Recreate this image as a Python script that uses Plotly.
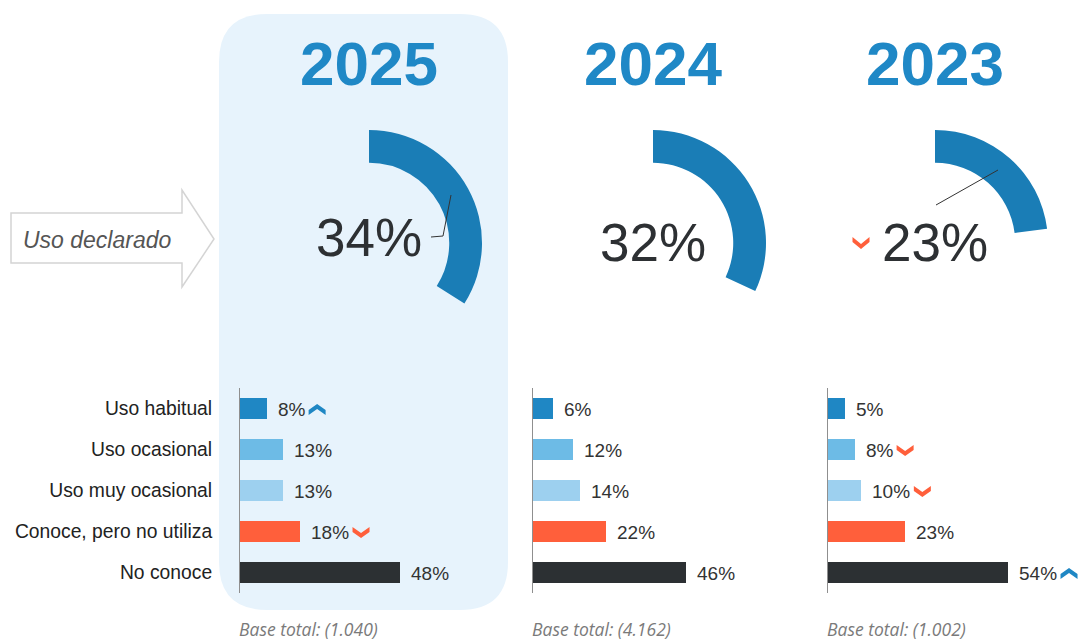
import plotly.graph_objects as go

# ---------------- data ----------------
years = ["2025", "2024", "2023"]
uso_declarado = [34, 32, 23]
sig_declarado = [0, 0, -1]          # +1 up, -1 down, 0 none
categories = ["Uso habitual", "Uso ocasional", "Uso muy ocasional",
              "Conoce, pero no utiliza", "No conoce"]
vals_2025 = [8, 13, 13, 18, 48]
vals_2024 = [6, 12, 14, 22, 46]
vals_2023 = [5, 8, 10, 23, 54]
sig_2025 = [1, 0, 0, -1, 0]
sig_2024 = [0, 0, 0, 0, 0]
sig_2023 = [0, -1, -1, 0, 1]
bases = ["Base total: (1.040)", "Base total: (4.162)", "Base total: (1.002)"]

# ---------------- styles ----------------
bar_colors = ["#1f87c4", "#6dbbe6", "#9dd0ef", "#ff5f3b", "#2c3033"]
arc_color = "#1a7db6"
title_color = "#1f88c6"
up_color = "#1f87c4"
down_color = "#ff5f3b"
FONT = "Liberation Sans, Arial, sans-serif"

W, H = 1078, 640
col_center = [369, 653, 935]
pct_y = [237, 242, 242]
bar_axis_x = [240, 533, 828]
donut_cy, donut_r, hole = 243, 113, 0.71
bar_top, bar_bottom = 388, 593
px_per_unit = 10 / 3          # bar scale in pixels per percent


def px(x):
    return x / W


def py(y):
    return 1 - y / H


fig = go.Figure()
shapes = []
annotations = []


def note(x, y, text, size, color, family=FONT, xanchor="center"):
    annotations.append(dict(x=px(x), y=py(y), xref="paper", yref="paper",
                            xanchor=xanchor, yanchor="middle", text=text,
                            showarrow=False,
                            font=dict(family=family, size=size, color=color)))


# background rounded rectangle for 2025
L, R, T, B, r = 219, 508, 14, 610, 48
path = (f"M{px(L+r)},{py(T)} L{px(R-r)},{py(T)} Q{px(R)},{py(T)} {px(R)},{py(T+r)} "
        f"L{px(R)},{py(B-r)} Q{px(R)},{py(B)} {px(R-r)},{py(B)} "
        f"L{px(L+r)},{py(B)} Q{px(L)},{py(B)} {px(L)},{py(B-r)} "
        f"L{px(L)},{py(T+r)} Q{px(L)},{py(T)} {px(L+r)},{py(T)} Z")
shapes.append(dict(type="path", xref="paper", yref="paper", path=path,
                   fillcolor="#e7f3fc", line=dict(width=0), layer="below"))

# "Uso declarado" arrow
pts = [(11, 213), (182, 213), (182, 190), (214, 239), (182, 287), (182, 263), (11, 263)]
apath = "M" + " L".join(f"{px(a)},{py(b)}" for a, b in pts) + " Z"
shapes.append(dict(type="path", xref="paper", yref="paper", path=apath,
                   fillcolor="white", line=dict(color="#d4d4d4", width=1.5), layer="below"))
note(97, 240, "<i>Uso declarado</i>", 23, "#555555")


def chevron_path(direction, dx=0.0, dy=0.0, w=17, h=11, t=5):
    hw, hh = w / 2, h / 2
    if direction > 0:  # up (pixel y positive = up)
        p = [(0, hh), (hw, -hh + t), (hw, -hh), (0, hh - t), (-hw, -hh), (-hw, -hh + t)]
    else:
        p = [(0, -hh), (hw, hh - t), (hw, hh), (0, -hh + t), (-hw, hh), (-hw, hh - t)]
    return "M" + " L".join(f"{a + dx:.2f},{b + dy:.2f}" for a, b in p) + " Z"


all_vals = [vals_2025, vals_2024, vals_2023]
all_sigs = [sig_2025, sig_2024, sig_2023]

for k, year in enumerate(years):
    cx = col_center[k]
    # year title
    note(cx, 64, f"<b>{year}</b>", 62, title_color)
    # donut arc
    v = uso_declarado[k]
    fig.add_trace(go.Pie(
        values=[v, 100 - v], sort=False, direction="clockwise", rotation=0,
        hole=hole, textinfo="none", hoverinfo="skip", showlegend=False,
        marker=dict(colors=[arc_color, "rgba(0,0,0,0)"], line=dict(width=0)),
        domain=dict(x=[px(cx - donut_r), px(cx + donut_r)],
                    y=[py(donut_cy + donut_r), py(donut_cy - donut_r)])))
    note(cx, pct_y[k], f"{v}%", 53, "#2d3033")
    if sig_declarado[k] != 0:
        shapes.append(dict(type="path", xref="paper", yref="paper",
                           xsizemode="pixel", ysizemode="pixel",
                           xanchor=px(cx - 74), yanchor=py(pct_y[k] + 1),
                           path=chevron_path(sig_declarado[k], w=17, h=12, t=5),
                           fillcolor=down_color if sig_declarado[k] < 0 else up_color,
                           line=dict(width=0)))

    # bars
    xa = "x" if k == 0 else f"x{k+1}"
    ya = "y" if k == 0 else f"y{k+1}"
    vals = all_vals[k]
    fig.add_trace(go.Bar(
        x=vals, y=list(range(len(categories))), orientation="h",
        marker=dict(color=bar_colors, line=dict(width=0)), width=0.5,
        xaxis=xa, yaxis=ya, hoverinfo="skip", showlegend=False))
    for i, val in enumerate(vals):
        annotations.append(dict(x=val, y=i, xref=xa, yref=ya, xanchor="left",
                                yanchor="middle", xshift=9, yshift=-1,
                                text=f"{val}%", showarrow=False,
                                font=dict(family=FONT, size=19, color="#333333")))
        s = all_sigs[k][i]
        if s != 0:
            tw = 19 * (0.556 * len(str(val)) + 0.889)
            off = 11 + tw + 12
            shapes.append(dict(type="path", xref=xa, yref=ya,
                               xsizemode="pixel", ysizemode="pixel",
                               xanchor=val, yanchor=i,
                               path=chevron_path(s, dx=off, dy=-1),
                               fillcolor=up_color if s > 0 else down_color,
                               line=dict(width=0)))

    # base total
    note(bar_axis_x[k] - 3, 629, f"<i>{bases[k]}</i>", 17.5, "#7a7a7a",
         family="Open Sans, sans-serif", xanchor="left")

    # axes: extend domain to the right, keep a fixed px-per-percent scale
    x0d = px(bar_axis_x[k])
    x1d = 1.0 if k == 2 else px(bar_axis_x[k] + 250)
    x_rng = [0, (x1d - x0d) * W / px_per_unit]
    y_dom = [py(bar_bottom), py(bar_top)]
    xkey = "xaxis" if k == 0 else f"xaxis{k+1}"
    ykey = "yaxis" if k == 0 else f"yaxis{k+1}"
    fig.update_layout(**{
        xkey: dict(domain=[x0d, x1d], range=x_rng, anchor=ya, visible=False, fixedrange=True),
        ykey: dict(domain=y_dom, range=[len(categories) - 0.5, -0.5], anchor=xa,
                   showline=True, linecolor="#8f8f8f", linewidth=1,
                   showgrid=False, zeroline=False,
                   tickvals=list(range(len(categories))), ticktext=categories,
                   showticklabels=(k == 0), ticks="", ticklabelstandoff=23,
                   tickfont=dict(family=FONT, size=19.3, color="#222222"),
                   fixedrange=True),
    })

# leader lines (connector artefacts of the original donut labels)
c0, c2 = col_center[0], col_center[2]
shapes.append(dict(type="path", xref="paper", yref="paper",
                   path=f"M{px(c0+82)},{py(195)} L{px(c0+74)},{py(236)} L{px(c0+62)},{py(237)}",
                   line=dict(color="#333333", width=1)))
shapes.append(dict(type="line", xref="paper", yref="paper",
                   x0=px(c2 + 63), y0=py(170), x1=px(c2 + 1), y1=py(205),
                   line=dict(color="#333333", width=1)))

fig.update_layout(width=W, height=H, margin=dict(l=0, r=0, t=0, b=0),
                  paper_bgcolor="white", plot_bgcolor="rgba(0,0,0,0)",
                  shapes=shapes, annotations=annotations, bargap=0)

fig.write_html("out.html", config={"displayModeBar": False},
               post_script="document.body.style.margin='0';document.body.style.overflow='hidden';")
